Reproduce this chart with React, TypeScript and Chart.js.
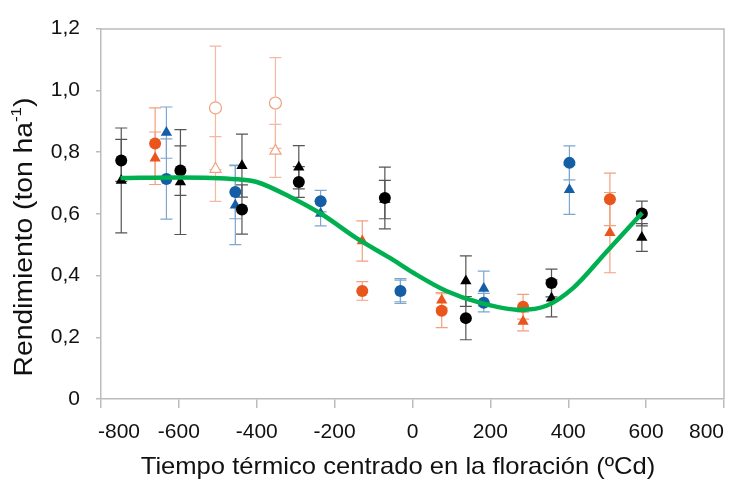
import React, { useEffect, useRef } from 'react';
import { Chart, registerables } from 'chart.js';

Chart.register(...registerables);

// ---- data ----
const xTickValues = [-800, -600, -400, -200, 0, 200, 400, 600, 800];
const xTickLabels = ['-800', '-600', '-400', '-200', '0', '200', '400', '600', '800'];
const yTickValues = [0, 0.2, 0.4, 0.6, 0.8, 1.0, 1.2];
const yTickLabels = ['0', '0,2', '0,4', '0,6', '0,8', '1,0', '1,2'];

const xTitle = 'Tiempo térmico centrado en la floración (ºCd)';
const yTitleMain = 'Rendimiento (ton ha';
const yTitleSup = '-1';
const yTitleEnd = ')';

const blackCircleX = [-748, -596, -438, -292, -71, 137, 357, 589];
const blackCircleY = [0.773, 0.740, 0.614, 0.703, 0.651, 0.262, 0.376, 0.601];
const blackCircleErr = [0.068, 0.080, 0.080, 0.050, 0.100, 0.070, 0.045, 0.040];

const blackTriX = [-748, -596, -438, -292, -71, 137, 357, 589];
const blackTriY = [0.708, 0.703, 0.756, 0.751, 0.646, 0.382, 0.326, 0.523];
const blackTriErr = [0.170, 0.170, 0.102, 0.070, 0.062, 0.082, 0.060, 0.045];

const orangeCircleX = [-661, -129, 75, 284, 507];
const orangeCircleY = [0.828, 0.350, 0.286, 0.299, 0.647];
const orangeCircleErr = [0.115, 0.030, 0.055, 0.040, 0.085];

const orangeTriX = [-661, -129, 75, 284, 507];
const orangeTriY = [0.780, 0.512, 0.320, 0.251, 0.539];
const orangeTriErr = [0.085, 0.065, 0.025, 0.030, 0.130];

const blueCircleX = [-632, -455, -236, -31, 183, 403];
const blueCircleY = [0.713, 0.671, 0.641, 0.350, 0.312, 0.765];
const blueCircleErr = [0.130, 0.087, 0.035, 0.040, 0.030, 0.055];

const blueTriX = [-632, -455, -236, -31, 183, 403];
const blueTriY = [0.863, 0.628, 0.601, 0.350, 0.358, 0.678];
const blueTriErr = [0.083, 0.128, 0.040, 0.035, 0.056, 0.080];

const openCircleX = [-506, -352];
const openCircleY = [0.943, 0.959];
const openCircleErr = [0.200, 0.147];

const openTriX = [-506, -352];
const openTriY = [0.745, 0.804];
const openTriErr = [0.105, 0.086];

const curveX = [-750, -600, -450, -400, -315, -230, -144, -58, 2, 87, 173, 276, 344, 413, 499, 590];
const curveY = [0.716, 0.718, 0.712, 0.703, 0.655, 0.596, 0.521, 0.457, 0.409, 0.350, 0.312, 0.289, 0.302, 0.360, 0.478, 0.603];

// ---- styles ----
const FONT = '"Liberation Sans", Arial, sans-serif';
const BLACK = '#000000';
const ORANGE = '#e8561c';
const BLUE = '#145ea6';
const OPEN = '#f0a283';
const GREEN = '#00b050';
const AXIS = '#bcbcbc';
const TEXT = '#111111';

const pts = (xs: number[], ys: number[]) => xs.map((x, i) => ({ x, y: ys[i] }));

const errorBarPlugin = {
  id: 'errorBars',
  beforeDatasetsDraw(chart: any) {
    const ctx = chart.ctx;
    const xs = chart.scales.x;
    const ys = chart.scales.y;
    chart.data.datasets.forEach((ds: any) => {
      if (!ds.errValues) return;
      ctx.save();
      ctx.strokeStyle = ds.errColor;
      ctx.lineWidth = 1.2;
      ds.data.forEach((p: any, i: number) => {
        const e = ds.errValues[i];
        const px = xs.getPixelForValue(p.x);
        const top = ys.getPixelForValue(p.y + e);
        const bot = ys.getPixelForValue(p.y - e);
        const cw = 6;
        ctx.beginPath();
        ctx.moveTo(px, top);
        ctx.lineTo(px, bot);
        ctx.moveTo(px - cw, top);
        ctx.lineTo(px + cw, top);
        ctx.moveTo(px - cw, bot);
        ctx.lineTo(px + cw, bot);
        ctx.stroke();
      });
      ctx.restore();
    });
  },
};

const textPlugin = {
  id: 'texts',
  afterDraw(chart: any) {
    const ctx = chart.ctx;
    const area = chart.chartArea;
    const xs = chart.scales.x;
    ctx.save();
    // plot box top and right
    ctx.strokeStyle = AXIS;
    ctx.lineWidth = 1.5;
    ctx.beginPath();
    ctx.moveTo(area.left, area.top + 0.5);
    ctx.lineTo(area.right, area.top + 0.5);
    ctx.lineTo(area.right, area.bottom);
    ctx.stroke();

    // x tick labels
    ctx.fillStyle = TEXT;
    ctx.font = `21px ${FONT}`;
    ctx.textBaseline = 'middle';
    ctx.textAlign = 'left';
    xTickValues.forEach((v, i) => {
      const label = xTickLabels[i];
      const px = xs.getPixelForValue(v);
      const w = ctx.measureText(label).width;
      let left = px - w / 2;
      if (left < area.left - 3) left = area.left - 3;
      if (left + w > area.right) left = area.right - w;
      ctx.fillText(label, left, area.bottom + 33);
    });

    // x title (slightly widened like the reference)
    ctx.save();
    ctx.font = `24px ${FONT}`;
    ctx.textAlign = 'center';
    ctx.translate(398, 467);
    ctx.scale(1.066, 1);
    ctx.fillText(xTitle, 0, 0);
    ctx.restore();

    // y title (rotated, with superscript)
    ctx.save();
    ctx.translate(25, 237);
    ctx.rotate(-Math.PI / 2);
    ctx.scale(1.13, 1);
    const mainFont = `25px ${FONT}`;
    const supFont = `15px ${FONT}`;
    ctx.font = mainFont;
    const w1 = ctx.measureText(yTitleMain).width;
    const w3 = ctx.measureText(yTitleEnd).width;
    ctx.font = supFont;
    const w2 = ctx.measureText(yTitleSup).width;
    const total = w1 + w2 + w3;
    let x0 = -total / 2;
    ctx.textAlign = 'left';
    ctx.font = mainFont;
    ctx.fillText(yTitleMain, x0, 0);
    x0 += w1;
    ctx.font = supFont;
    ctx.fillText(yTitleSup, x0, -8);
    x0 += w2;
    ctx.font = mainFont;
    ctx.fillText(yTitleEnd, x0, 0);
    ctx.restore();
    ctx.restore();
  },
};

export default function App() {
  const canvasRef = useRef<HTMLCanvasElement | null>(null);

  useEffect(() => {
    if (!canvasRef.current) return;
    const markerSet = (
      label: string,
      xs: number[],
      ys: number[],
      errs: number[],
      style: string,
      fill: string,
      stroke: string,
      errColor: string,
      order: number
    ) => ({
      type: 'scatter' as const,
      label,
      data: pts(xs, ys),
      errValues: errs,
      errColor,
      pointStyle: style,
      pointRadius: style === 'triangle' ? 6.5 : 6,
      pointBackgroundColor: fill,
      pointBorderColor: stroke,
      pointBorderWidth: fill === '#ffffff' ? 1.2 : 0,
      showLine: false,
      order,
    });

    const chart = new Chart(canvasRef.current, {
      type: 'scatter',
      data: {
        datasets: [
          {
            type: 'scatter',
            label: 'Ajuste',
            data: pts(curveX, curveY),
            showLine: true,
            borderColor: GREEN,
            borderWidth: 4.5,
            pointRadius: 0,
            cubicInterpolationMode: 'monotone',
            order: 0,
          } as any,
          markerSet('Negro círculo', blackCircleX, blackCircleY, blackCircleErr, 'circle', BLACK, BLACK, '#555555', 1),
          markerSet('Negro triángulo', blackTriX, blackTriY, blackTriErr, 'triangle', BLACK, BLACK, '#555555', 2),
          markerSet('Naranja círculo', orangeCircleX, orangeCircleY, orangeCircleErr, 'circle', ORANGE, ORANGE, '#f2a07e', 3),
          markerSet('Naranja triángulo', orangeTriX, orangeTriY, orangeTriErr, 'triangle', ORANGE, ORANGE, '#f2a07e', 4),
          markerSet('Azul círculo', blueCircleX, blueCircleY, blueCircleErr, 'circle', BLUE, BLUE, '#7ea6cf', 5),
          markerSet('Azul triángulo', blueTriX, blueTriY, blueTriErr, 'triangle', BLUE, BLUE, '#7ea6cf', 6),
          markerSet('Abierto círculo', openCircleX, openCircleY, openCircleErr, 'circle', '#ffffff', OPEN, '#f3b9a2', 7),
          markerSet('Abierto triángulo', openTriX, openTriY, openTriErr, 'triangle', '#ffffff', OPEN, '#f3b9a2', 8),
        ] as any,
      },
      options: {
        animation: false,
        responsive: false,
        maintainAspectRatio: false,
        layout: { padding: { top: 25, right: 8, left: 0, bottom: 0 } },
        plugins: { legend: { display: false }, tooltip: { enabled: false } },
        scales: {
          x: {
            type: 'linear',
            min: -800,
            max: 800,
            afterBuildTicks: (scale: any) => {
              scale.ticks = xTickValues.map((v) => ({ value: v }));
            },
            afterFit: (scale: any) => {
              scale.height = 82;
            },
            ticks: { display: false },
            grid: { display: true, drawOnChartArea: false, drawTicks: true, tickLength: 9, color: AXIS, lineWidth: 1.5 },
            border: { display: true, color: AXIS, width: 1.5 },
          },
          y: {
            type: 'linear',
            min: 0,
            max: 1.2,
            afterBuildTicks: (scale: any) => {
              scale.ticks = yTickValues.map((v) => ({ value: v }));
            },
            afterFit: (scale: any) => {
              scale.width = 101;
            },
            ticks: {
              padding: 16,
              color: TEXT,
              font: { family: FONT, size: 21 },
              callback: (_v: any, i: number) => yTickLabels[i],
            },
            grid: { display: true, drawOnChartArea: false, drawTicks: true, tickLength: 5, color: AXIS, lineWidth: 1.5 },
            border: { display: true, color: AXIS, width: 1.5 },
          },
        },
      } as any,
      plugins: [errorBarPlugin, textPlugin],
    });
    return () => chart.destroy();
  }, []);

  return (
    <div style={{ position: 'fixed', left: 0, top: 0, width: 732, height: 481, background: '#ffffff' }}>
      <canvas ref={canvasRef} width={732} height={481} style={{ width: 732, height: 481, display: 'block' }} />
    </div>
  );
}
